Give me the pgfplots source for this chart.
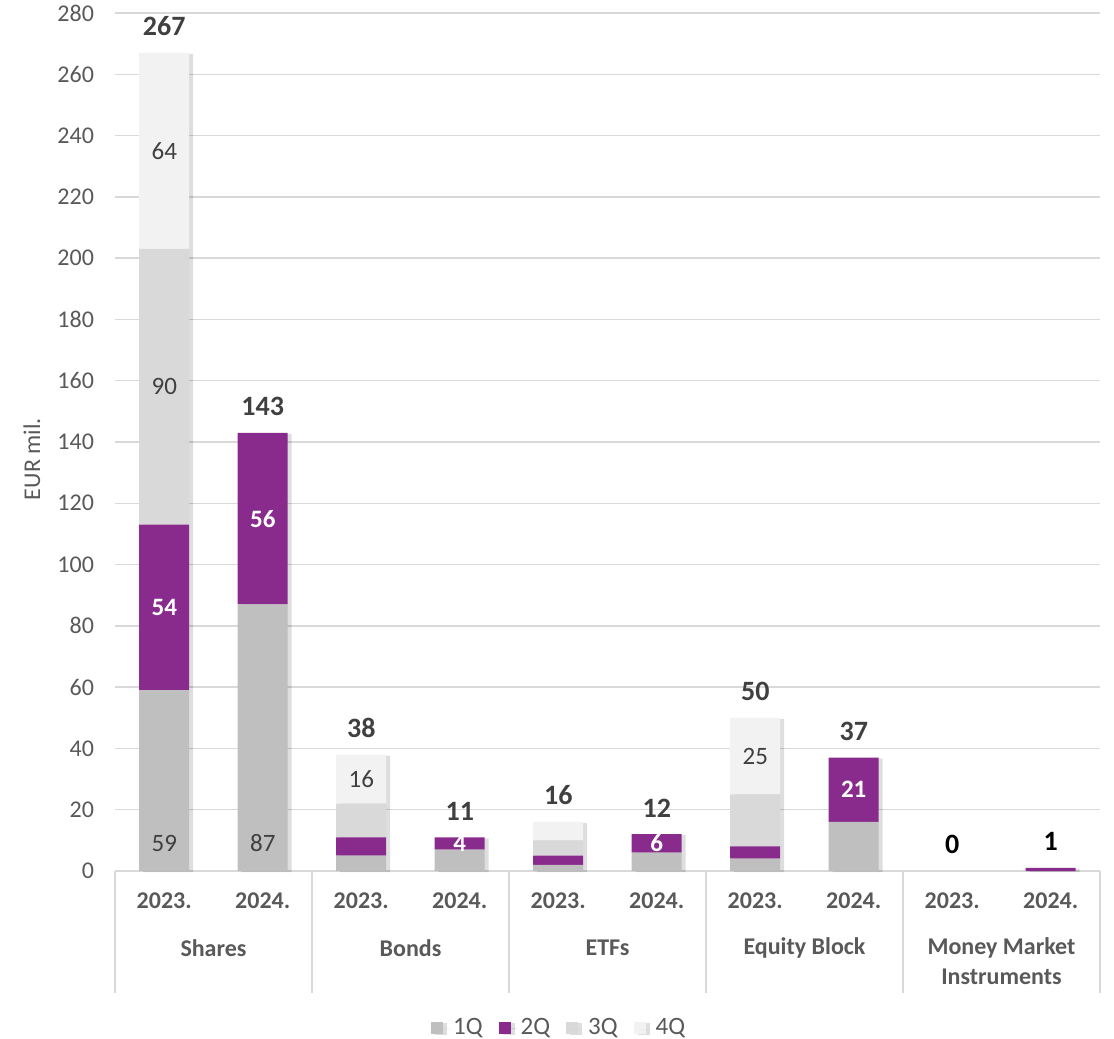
\documentclass[border=0pt]{standalone}
\usepackage{fontspec}
\setmainfont{Carlito}
\usepackage{pgfplots}
\usepackage{pgfplotstable}
\usetikzlibrary{shadows}
\pgfplotsset{compat=1.18}

\definecolor{qone}{HTML}{BFBFBF}
\definecolor{qtwo}{HTML}{892B8C}
\definecolor{qthree}{HTML}{D9D9D9}
\definecolor{qfour}{HTML}{F2F2F2}
\definecolor{gridgray}{HTML}{D9D9D9}
\definecolor{labelgray}{HTML}{595959}
\definecolor{darktext}{HTML}{404040}

% stacked volumes per quarter, x = bar position (2 years x 5 groups)
\pgfplotstableread{
x q1 q2 q3 q4
0 59 54 90 64
1 87 56 0  0
2 5  6  11 16
3 7  4  0  0
4 2  3  5  6
5 6  6  0  0
6 4  4  17 25
7 16 21 0  0
8 0  0  0  0
9 0  1  0  0
}\volumes

\tikzset{grp/.style={font=\bfseries\fontsize{12}{14.5}\selectfont, text=labelgray},
  barshadow/.style={drop shadow={shadow xshift=2pt, shadow yshift=-0.5pt, opacity=0.13, fill=black}}}

\begin{document}
\begin{tikzpicture}
\pgfplotsset{base/.style={
  width=492.5pt, height=429pt, scale only axis,
  xmin=-0.5, xmax=9.5, ymin=0, ymax=280,
  at={(0,0)}, anchor=south west, clip=false}}

\begin{axis}[base,
  ybar stacked, bar width=25pt,
  axis x line*=bottom, axis y line*=left,
  x axis line style={draw=gridgray, line width=0.75pt},
  y axis line style={draw=none},
  ytick={0,20,...,280},
  yticklabel={\pgfmathtruncatemacro\ytk{\tick}\ytk},
  ymajorgrids, grid style={gridgray, line width=0.75pt},
  y tick style={draw=none},
  yticklabel style={font=\fontsize{12}{14}\selectfont, text=labelgray, xshift=-7pt},
  xtick={0,...,9},
  xticklabels={2023.,2024.,2023.,2024.,2023.,2024.,2023.,2024.,2023.,2024.},
  x tick style={draw=none},
  xticklabel style={font=\bfseries\fontsize{12}{14}\selectfont, text=labelgray, yshift=-7.5pt},
  ylabel={EUR mil.},
  ylabel style={at={(axis description cs:-0.0843,0.48)},
    anchor=center, font=\fontsize{12}{14}\selectfont, text=labelgray},
  legend style={at={(axis description cs:0.452,-0.183)}, anchor=center, draw=none,
    legend columns=4, font=\fontsize{12.5}{14}\selectfont, text=labelgray,
    /tikz/every even column/.append style={column sep=6pt}},
  area legend,
  legend image code/.code={
    \begin{scope}[barshadow/.style={}]
    \fill[#1] (0pt,-3pt) rectangle (6pt,3pt);
    \path (0pt,0pt) -- (9pt,0pt);
    \end{scope}},
]
\addplot[fill=qone, draw=none, barshadow] table[x=x, y=q1] {\volumes};
\addplot[fill=qtwo, draw=none, barshadow] table[x=x, y=q2] {\volumes};
\addplot[fill=qthree, draw=none, barshadow] table[x=x, y=q3] {\volumes};
\addplot[fill=qfour, draw=none, barshadow] table[x=x, y=q4] {\volumes};
\legend{1Q,2Q,3Q,4Q}

% category separators below the axis
\pgfplotsinvokeforeach{-0.5,1.5,3.5,5.5,7.5,9.5}{
  \draw[gridgray, line width=0.75pt] (axis cs:#1,0) -- ++(0pt,-61pt);
}

\node[grp] at (axis cs:0.5,0) [yshift=-38.5pt] {Shares};
\node[grp] at (axis cs:2.5,0) [yshift=-38.5pt] {Bonds};
\node[grp] at (axis cs:4.5,0) [yshift=-38.5pt] {ETFs};
\node[grp] at (axis cs:6.5,0) [yshift=-38.5pt] {Equity Block};
\node[grp] at (axis cs:8.5,0) [yshift=-38.5pt] {Money Market};
\node[grp] at (axis cs:8.5,0) [yshift=-53pt] {Instruments};
\end{axis}

% data labels
\begin{axis}[base, hide axis]
\addplot[draw=none, mark=none, nodes near coords, point meta=explicit symbolic,
  nodes near coords style={anchor=center, font=\fontsize{12.5}{14}\selectfont, text=darktext}]
  coordinates {(0,9) [59] (1,9) [87] (0,158) [90] (0,235) [64] (2,30) [16] (6,37.5) [25]};
\addplot[draw=none, mark=none, nodes near coords, point meta=explicit symbolic,
  nodes near coords style={anchor=center, font=\bfseries\fontsize{12.5}{14}\selectfont, text=white}]
  coordinates {(0,86) [54] (1,115) [56] (3,9) [4] (5,9) [6] (7,26.5) [21]};
\addplot[draw=none, mark=none, nodes near coords, point meta=explicit symbolic,
  nodes near coords style={anchor=south, yshift=5pt, font=\bfseries\fontsize{14}{16}\selectfont, text=darktext}]
  coordinates {(0,267) [267] (1,143) [143] (2,38) [38] (3,11) [11]
               (4,16) [16] (5,12) [12] (6,50) [50] (7,37) [37]};
\addplot[draw=none, mark=none, nodes near coords, point meta=explicit symbolic,
  nodes near coords style={anchor=south, yshift=5pt, font=\bfseries\fontsize{14}{16}\selectfont, text=black}]
  coordinates {(8,0) [0] (9,1) [1]};
\end{axis}

\pgfresetboundingbox
\useasboundingbox (-57.5pt,-84pt) rectangle (499.5pt,435.5pt);
\end{tikzpicture}
\end{document}
